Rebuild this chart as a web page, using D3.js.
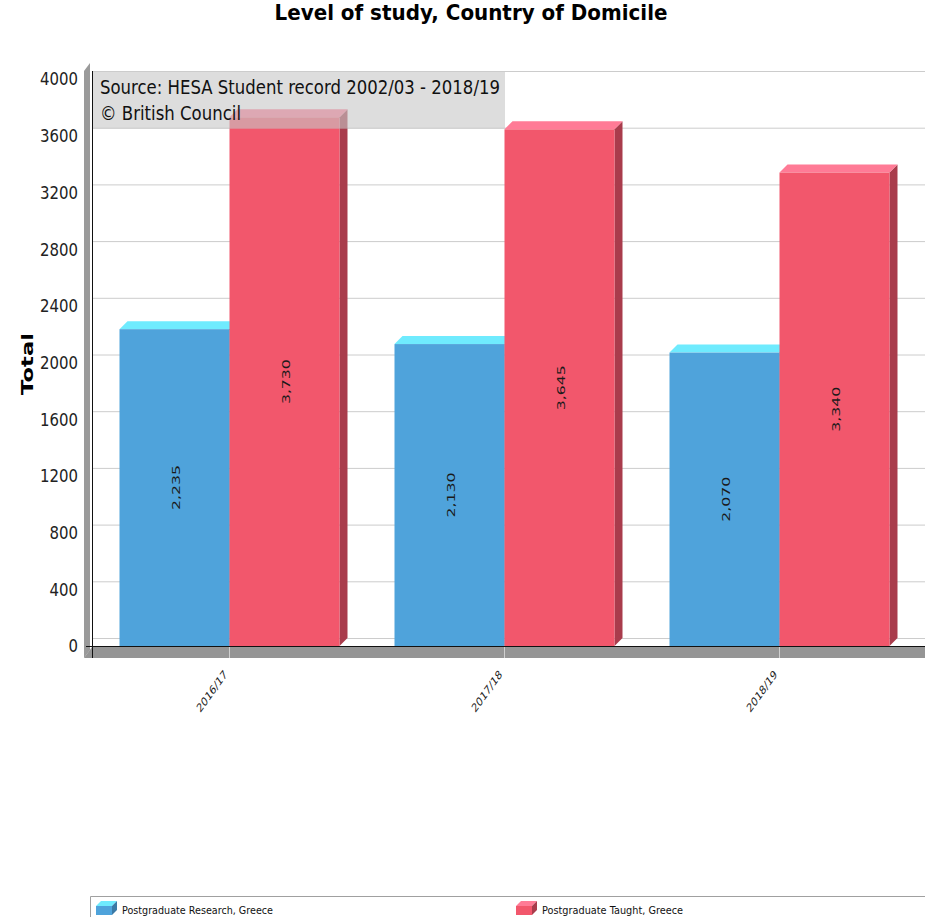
<!DOCTYPE html>
<html>
<head>
<meta charset="utf-8">
<script src="https://cdn.jsdelivr.net/npm/d3@7"></script>
<style>
  body { margin: 0; background: #fff; }
  text { font-family: "DejaVu Sans", sans-serif; }
</style>
</head>
<body>
<div id="chart"></div>
<script>
const categories = ["2016/17", "2017/18", "2018/19"];
const seriesNames = ["Postgraduate Research, Greece", "Postgraduate Taught, Greece"];
const research = [2235, 2130, 2070];
const taught = [3730, 3645, 3340];
const yTicks = [0, 400, 800, 1200, 1600, 2000, 2400, 2800, 3200, 3600, 4000];

const WIDTH = 925;
const HEIGHT = 917;
const SQUEEZE = 0.72; // the original picture is squeezed sideways
const DX = 8;
const DY = 8;

const colors = [
  { front: "#4fa3db", top: "#6febfe", side: "#3a7aa6" },
  { front: "#f2576c", top: "#ff7b96", side: "#a93c4c" },
];

const svg = d3
  .select("#chart")
  .append("svg")
  .attr("width", WIDTH)
  .attr("height", HEIGHT);

const x = d3
  .scaleBand()
  .domain(categories)
  .range([92, 917])
  .paddingInner(0.2)
  .paddingOuter(0.1);

const xs = d3.scaleBand().domain(seriesNames).range([0, x.bandwidth()]);

const y = d3.scaleLinear().domain([0, 4000]).range([646, 79]);

// title
svg
  .append("text")
  .attr("x", 471)
  .attr("y", 20)
  .attr("text-anchor", "middle")
  .attr("font-size", 22)
  .attr("font-weight", "bold")
  .attr("textLength", 393)
  .attr("lengthAdjust", "spacingAndGlyphs")
  .text("Level of study, Country of Domicile");

// gridlines on the back wall
svg
  .selectAll("line.grid")
  .data(yTicks)
  .enter()
  .append("line")
  .attr("class", "grid")
  .attr("x1", 92)
  .attr("x2", WIDTH)
  .attr("y1", (d) => y(d) - DY + 0.5)
  .attr("y2", (d) => y(d) - DY + 0.5)
  .style("stroke", "#cccccc");

// left wall and floor
svg
  .append("polygon")
  .attr("points", [[84, y(4000) - 8], [90, y(4000) - 16], [90, y(0) + 4], [84, y(0) + 12]].join(" "))
  .style("fill", "#9a9a9a");

svg
  .append("polygon")
  .attr("points", [[84, y(0) + 12], [WIDTH, y(0) + 12], [WIDTH, y(0) + 1], [92, y(0) + 1]].join(" "))
  .style("fill", "#959595");

svg
  .append("line")
  .attr("x1", 92.5)
  .attr("x2", 92.5)
  .attr("y1", y(4000) - 8)
  .attr("y2", y(0) + 12)
  .style("stroke", "#111");

svg
  .append("line")
  .attr("x1", 86)
  .attr("x2", WIDTH)
  .attr("y1", y(0) + 0.5)
  .attr("y2", y(0) + 0.5)
  .style("stroke", "#111");

// category ticks on floor
svg
  .selectAll("line.xtick")
  .data(categories)
  .enter()
  .append("line")
  .attr("class", "xtick")
  .attr("x1", (d) => x(d) + x.bandwidth() / 2)
  .attr("x2", (d) => x(d) + x.bandwidth() / 2)
  .attr("y1", y(0) + 1)
  .attr("y2", y(0) + 12)
  .style("stroke", "#cfcfcf");

// y tick labels
svg
  .selectAll("text.ytick")
  .data(yTicks)
  .enter()
  .append("text")
  .attr("class", "ytick")
  .attr("x", 78)
  .attr("y", (d) => y(d))
  .attr("dy", "0.36em")
  .attr("text-anchor", "end")
  .attr("font-size", 18)
  .attr("textLength", (d) => String(d).length * 9.5)
  .attr("lengthAdjust", "spacingAndGlyphs")
  .style("fill", "#222")
  .text((d) => d);

// y axis title
svg
  .append("text")
  .attr("transform", `translate(27,364) scale(${SQUEEZE},1) rotate(-90)`)
  .attr("text-anchor", "middle")
  .attr("dy", "0.36em")
  .attr("font-size", 22)
  .attr("font-weight", "bold")
  .attr("textLength", 62)
  .attr("lengthAdjust", "spacingAndGlyphs")
  .text("Total");

// bars
const bars = [];
categories.forEach((c, i) => {
  bars.push({ cat: c, s: 0, value: research[i] });
  bars.push({ cat: c, s: 1, value: taught[i] });
});

const barG = svg
  .selectAll("g.bar")
  .data(bars)
  .enter()
  .append("g")
  .attr("class", "bar");

barG.each(function (d) {
  const g = d3.select(this);
  const x0 = x(d.cat) + xs(seriesNames[d.s]);
  const w = xs.bandwidth();
  const yTop = y(d.value);
  const yBase = y(0);
  const col = colors[d.s];
  g.append("polygon")
    .attr("points", [[x0 + w, yTop], [x0 + w + DX, yTop - DY], [x0 + w + DX, yBase - DY], [x0 + w, yBase]].join(" "))
    .style("fill", col.side);
  g.append("polygon")
    .attr("points", [[x0, yTop], [x0 + DX, yTop - DY], [x0 + w + DX, yTop - DY], [x0 + w, yTop]].join(" "))
    .style("fill", col.top);
  g.append("rect")
    .attr("x", x0)
    .attr("y", yTop)
    .attr("width", w)
    .attr("height", yBase - yTop)
    .style("fill", col.front);
  g.append("text")
    .attr("transform", `translate(${x0 + w / 2 + 2},${(yTop + yBase) / 2}) scale(${SQUEEZE},1) rotate(-90)`)
    .attr("text-anchor", "middle")
    .attr("dy", "0.36em")
    .attr("font-size", 15)
    .attr("textLength", 45)
    .attr("lengthAdjust", "spacingAndGlyphs")
    .style("fill", "#1a1a1a")
    .text(d3.format(",")(d.value));
});

// x tick labels
svg
  .selectAll("text.xlabel")
  .data(categories)
  .enter()
  .append("text")
  .attr("class", "xlabel")
  .attr("transform", (d) => `translate(${x(d) + x.bandwidth() / 2 - 4},672) scale(${SQUEEZE},1) rotate(-45)`)
  .attr("text-anchor", "end")
  .attr("dy", "0.36em")
  .attr("font-size", 12)
  .attr("textLength", 54)
  .attr("lengthAdjust", "spacingAndGlyphs")
  .style("fill", "#222")
  .text((d) => d);

// source box
svg
  .append("rect")
  .attr("x", 93)
  .attr("y", y(4000) - DY + 1)
  .attr("width", 412)
  .attr("height", y(3600) - y(4000))
  .style("fill", "rgba(198,198,198,0.6)");

svg
  .append("text")
  .attr("x", 100)
  .attr("y", 94)
  .attr("font-size", 20)
  .attr("textLength", 400)
  .attr("lengthAdjust", "spacingAndGlyphs")
  .style("fill", "#111")
  .text("Source: HESA Student record 2002/03 - 2018/19");

svg
  .append("text")
  .attr("x", 100)
  .attr("y", 120)
  .attr("font-size", 20)
  .attr("textLength", 141)
  .attr("lengthAdjust", "spacingAndGlyphs")
  .style("fill", "#111")
  .text("© British Council");

// legend
svg
  .append("path")
  .attr("d", `M90.5,${HEIGHT} V896.5 H${WIDTH}`)
  .style("fill", "none")
  .style("stroke", "#a0a0a0");

const legendX = [96, 516];
const legendW = [151, 141];
const legend = svg
  .selectAll("g.legend")
  .data(seriesNames)
  .enter()
  .append("g")
  .attr("class", "legend")
  .attr("transform", (d, i) => `translate(${legendX[i]},0)`);

legend
  .append("polygon")
  .attr("points", [[0, 906], [5, 901], [21, 901], [16, 906]].join(" "))
  .style("fill", (d, i) => colors[i].top);
legend
  .append("polygon")
  .attr("points", [[16, 906], [21, 901], [21, 910], [16, 915]].join(" "))
  .style("fill", (d, i) => colors[i].side);
legend
  .append("rect")
  .attr("x", 0)
  .attr("y", 906)
  .attr("width", 16)
  .attr("height", 9)
  .style("fill", (d, i) => colors[i].front);
legend
  .append("text")
  .attr("x", 26)
  .attr("y", 914)
  .attr("font-size", 11)
  .attr("textLength", (d, i) => legendW[i])
  .attr("lengthAdjust", "spacingAndGlyphs")
  .style("fill", "#111")
  .text((d) => d);
</script>
</body>
</html>
